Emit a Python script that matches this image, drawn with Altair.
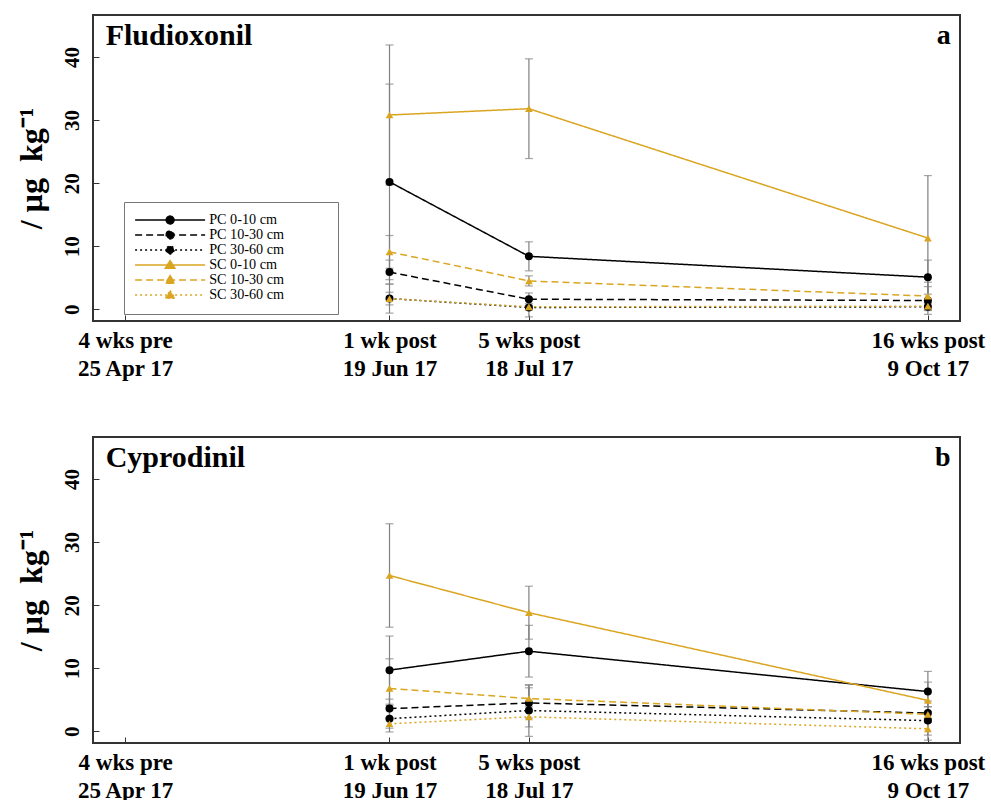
import altair as alt
import pandas as pd

# ---------------- data ----------------
series = ["PC 0-10 cm", "PC 10-30 cm", "PC 30-60 cm",
          "SC 0-10 cm", "SC 10-30 cm", "SC 30-60 cm"]
groups = ["PC", "SC"]
depths = ["0-10", "10-30", "30-60"]
sample_days = [55, 84, 167]            # days after 25 Apr 17
tick_days = [0, 55, 84, 167]
tick_top = ["4 wks pre", "1 wk post", "5 wks post", "16 wks post"]
tick_bottom = ["25 Apr 17", "19 Jun 17", "18 Jul 17", "9 Oct 17"]

# Fludioxonil (panel a): means and error half-widths
flu_pc_0_10 = [20.2, 8.4, 5.1]
flu_pc_10_30 = [5.9, 1.6, 1.4]
flu_pc_30_60 = [1.7, 0.3, 0.4]
flu_sc_0_10 = [30.8, 31.8, 11.3]
flu_sc_10_30 = [9.1, 4.5, 2.1]
flu_sc_30_60 = [1.7, 0.4, 0.5]
flu_pc_0_10_err = [15.5, 2.3, 2.7]
flu_pc_10_30_err = [1.9, 1.0, 2.2]
flu_pc_30_60_err = [2.3, 1.5, 0.6]
flu_sc_0_10_err = [11.1, 7.9, 9.9]
flu_sc_10_30_err = [2.6, 0.8, 2.2]
flu_sc_30_60_err = [1.0, 0.5, 0.5]

# Cyprodinil (panel b)
cyp_pc_0_10 = [9.7, 12.7, 6.3]
cyp_pc_10_30 = [3.6, 4.5, 2.9]
cyp_pc_30_60 = [2.0, 3.3, 1.7]
cyp_sc_0_10 = [24.7, 18.8, 4.9]
cyp_sc_10_30 = [6.8, 5.2, 2.7]
cyp_sc_30_60 = [1.2, 2.3, 0.4]
cyp_pc_0_10_err = [5.4, 4.1, 3.2]
cyp_pc_10_30_err = [1.5, 2.4, 1.0]
cyp_pc_30_60_err = [2.1, 4.1, 3.1]
cyp_sc_0_10_err = [8.2, 4.2, 2.9]
cyp_sc_10_30_err = [4.7, 2.1, 1.2]
cyp_sc_30_60_err = [0.7, 1.6, 1.0]

BLACK, GOLD = "#000000", "#DAA520"
colors = [BLACK, BLACK, BLACK, GOLD, GOLD, GOLD]
depth_dashes = [[1, 0], [7, 4], [2, 3]]
dashes = depth_dashes * 2
circle_path = "M-8.75,0H8.75M1,0A1,1,0,1,1,-1,0A1,1,0,1,1,1,0Z"
tri_path = "M-8.75,0H8.75M0,-1.15L1.25,0.85L-1.25,0.85Z"
legend_shapes = [circle_path] * 3 + [tri_path] * 3


def make_df(means, errs):
    rows = []
    for s, m, e in zip(series, means, errs):
        for d, mv, ev in zip(sample_days, m, e):
            rows.append(dict(series=s, group=s[:2], depth=s[3:].replace(" cm", ""),
                             day=d, mean=mv, lo=mv - ev, hi=mv + ev))
    return pd.DataFrame(rows)


flu_df = make_df([flu_pc_0_10, flu_pc_10_30, flu_pc_30_60,
                  flu_sc_0_10, flu_sc_10_30, flu_sc_30_60],
                 [flu_pc_0_10_err, flu_pc_10_30_err, flu_pc_30_60_err,
                  flu_sc_0_10_err, flu_sc_10_30_err, flu_sc_30_60_err])
cyp_df = make_df([cyp_pc_0_10, cyp_pc_10_30, cyp_pc_30_60,
                  cyp_sc_0_10, cyp_sc_10_30, cyp_sc_30_60],
                 [cyp_pc_0_10_err, cyp_pc_10_30_err, cyp_pc_30_60_err,
                  cyp_sc_0_10_err, cyp_sc_10_30_err, cyp_sc_30_60_err])

# ---------------- styling ----------------
SERIF = "Liberation Serif"
W, H = 867, 306
Y_TITLE = "/ µg\u00a0\u00a0kg⁻¹"

label_expr = ""
for d, a, b in zip(tick_days, tick_top, tick_bottom):
    label_expr += f"datum.value == {d} ? ['{a}', '{b}'] : "
label_expr += "''"

x_scale = alt.Scale(domain=[-6.68, 173.68], nice=False, zero=False)
y_scale = alt.Scale(domain=[-1.85, 46.65], nice=False, zero=False)

x_axis = alt.Axis(values=tick_days, labelExpr=label_expr, grid=False, domain=False,
                  tickSize=6, offset=-6, tickColor="#333333", tickWidth=1,
                  labelFont=SERIF, labelFontWeight="bold", labelFontSize=23,
                  labelColor="black", labelLineHeight=28.5, labelPadding=8,
                  labelAlign="center", labelBaseline="top", labelFlush=False,
                  labelOverlap=False, title=None)
y_axis = alt.Axis(values=[0, 10, 20, 30, 40], grid=False, domain=False,
                  tickSize=6, offset=-6, tickColor="#333333", tickWidth=1,
                  labelFont=SERIF, labelFontWeight="bold", labelFontSize=21,
                  labelColor="black", labelAngle=270, labelAlign="center",
                  labelBaseline="alphabetic", labelPadding=15,
                  title=Y_TITLE, titleFont=SERIF,
                  titleFontWeight="bold", titleFontSize=32, titleColor="black",
                  titlePadding=13, titleAngle=270)

group_scale = alt.Scale(domain=groups, range=[BLACK, GOLD])
series_color = alt.Scale(domain=series, range=colors)
dash_scale = alt.Scale(domain=series, range=dashes)
shape_scale = alt.Scale(domain=series, range=legend_shapes)

# trailing no-break spaces widen the legend box; the final zero-width char keeps them from being trimmed
legend = alt.Legend(title=None, orient="none", legendX=31, legendY=187,
                    direction="vertical", symbolSize=64, symbolStrokeWidth=1.3,
                    symbolOpacity=1, symbolFillColor="black",
                    symbolOffset=28, labelOffset=32, clipHeight=14,
                    labelFont=SERIF, labelFontSize=14.2, labelColor="black",
                    labelLimit=400, rowPadding=0, padding=11,
                    strokeColor="#777777", fillColor="white",
                    labelExpr="datum.label + '" + "\u00a0" * 12 + "\u200b'")


def panel(df, name, letter, with_legend):
    base = alt.Chart(df)
    x = alt.X("day:Q", scale=x_scale, axis=x_axis, title=None)
    y = alt.Y("mean:Q", scale=y_scale, axis=y_axis, title=Y_TITLE)

    layers = []
    layers.append(base.mark_rule(color="#808080", strokeWidth=1.2).encode(
        x=x, y=alt.Y("lo:Q", scale=y_scale, axis=y_axis, title=Y_TITLE), y2="hi:Q"))
    layers.append(base.transform_fold(["lo", "hi"], as_=["end", "val"]).mark_tick(
        orient="horizontal", color="#808080", thickness=1.2, size=8).encode(
        x=x, y=alt.Y("val:Q", scale=y_scale, axis=y_axis, title=Y_TITLE)))
    for dep, dash in zip(depths, depth_dashes):
        layers.append(base.transform_filter(alt.datum.depth == dep).mark_line(
            strokeWidth=1.5, strokeDash=dash).encode(
            x=x, y=y,
            color=alt.Color("group:N", scale=group_scale, legend=None),
            detail="series:N", order="day:Q"))
    layers.append(base.transform_filter(alt.datum.group == "PC").mark_point(
        shape="circle", filled=True, size=64, opacity=1, color=BLACK).encode(x=x, y=y))
    layers.append(base.transform_filter(alt.datum.group == "SC").mark_point(
        shape="triangle-up", filled=True, size=60, opacity=1, color=GOLD).encode(x=x, y=y))
    if with_legend:
        # invisible layer that only carries the legend
        layers.append(base.mark_point(filled=True, opacity=0).encode(
            x=x, y=y,
            fill=alt.Fill("series:N", scale=series_color, legend=legend),
            stroke=alt.Stroke("series:N", scale=series_color, legend=legend),
            shape=alt.Shape("series:N", scale=shape_scale, legend=legend),
            strokeDash=alt.StrokeDash("series:N", scale=dash_scale, legend=legend)))

    layers.append(alt.Chart(pd.DataFrame({"t": [name]})).mark_text(
        font=SERIF, fontWeight="bold", fontSize=30, align="left",
        baseline="alphabetic", color="black").encode(
        text="t:N", x=alt.value(12.7), y=alt.value(29.5)))
    layers.append(alt.Chart(pd.DataFrame({"t": [letter]})).mark_text(
        font=SERIF, fontWeight="bold", fontSize=28, align="right",
        baseline="alphabetic", color="black").encode(
        text="t:N", x=alt.value(857.7), y=alt.value(28.7)))

    return alt.layer(*layers).properties(width=W, height=H)


top = panel(flu_df, "Fludioxonil", "a", True)
bottom = panel(cyp_df, "Cyprodinil", "b", False)

chart = alt.vconcat(top, bottom, spacing=116, bounds="flush").properties(
    padding={"left": 13, "top": 14, "right": 5, "bottom": 5},
    background="white",
).configure_view(stroke="#333333", strokeWidth=2)

chart.save("out.html", embed_options={"renderer": "svg", "actions": False})
